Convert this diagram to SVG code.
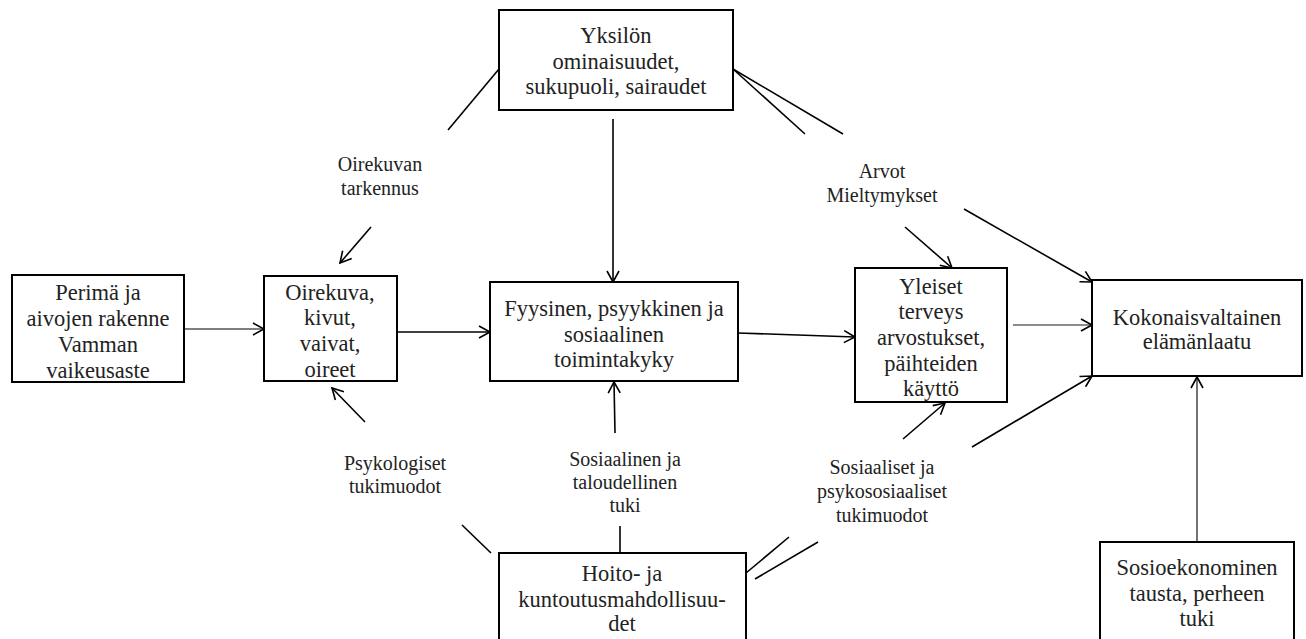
<svg xmlns="http://www.w3.org/2000/svg" width="1306" height="639" viewBox="0 0 1306 639">
<style>
.box{fill:#fff;stroke:#000;stroke-width:2}
.nt{font-size:22.5px;fill:#222;text-anchor:middle}
.lt{font-size:20px;fill:#222;text-anchor:middle}
.c{stroke:#000;stroke-width:1.6;fill:none}
.thin{stroke:#000;stroke-width:1.1;fill:none}
.gray{stroke:#666;stroke-width:1.3;fill:none}
</style>
<defs>
<marker id="ah" markerUnits="userSpaceOnUse" markerWidth="14" markerHeight="14" viewBox="0 0 14 14" refX="12" refY="7" orient="auto">
<path d="M1,1 L12,7 L1,13" fill="none" stroke="#000" stroke-width="1.6"/>
</marker>
</defs>
<rect width="1306" height="639" fill="#fff"/>
<g id="connectors">
<line class="c" x1="499" y1="69" x2="448" y2="130"/>
<line class="c" x1="613" y1="119" x2="613" y2="282" marker-end="url(#ah)"/>
<line class="c" x1="733" y1="69" x2="805" y2="134"/>
<line class="c" x1="733" y1="69" x2="843" y2="134"/>
<line class="c" x1="371" y1="227" x2="340" y2="263" marker-end="url(#ah)"/>
<line class="thin" x1="184" y1="329" x2="264" y2="329" marker-end="url(#ah)"/>
<line class="c" x1="397" y1="332" x2="490" y2="332" marker-end="url(#ah)"/>
<line class="c" x1="738" y1="333" x2="855" y2="337" marker-end="url(#ah)"/>
<line class="c" x1="905" y1="227" x2="952" y2="268" marker-end="url(#ah)"/>
<line class="c" x1="964" y1="209" x2="1092" y2="282" marker-end="url(#ah)"/>
<line class="gray" x1="1013" y1="325" x2="1092" y2="325" marker-end="url(#ah)"/>
<line class="c" x1="972" y1="447" x2="1092" y2="376" marker-end="url(#ah)"/>
<line class="c" x1="903" y1="439" x2="945" y2="403" marker-end="url(#ah)"/>
<line class="c" x1="365" y1="422" x2="332" y2="388" marker-end="url(#ah)"/>
<line class="c" x1="615" y1="433" x2="614" y2="382" marker-end="url(#ah)"/>
<line class="c" x1="620" y1="526" x2="620" y2="553"/>
<line class="c" x1="462" y1="525" x2="491" y2="553"/>
<line class="c" x1="746" y1="573" x2="789" y2="537"/>
<line class="c" x1="755" y1="579" x2="818" y2="542"/>
<line class="thin" x1="1197" y1="542" x2="1197" y2="377" marker-end="url(#ah)"/>
</g>
<g font-family="'Liberation Serif', 'DejaVu Serif', serif">
<g id="n-yksilon">
<rect class="box" x="499" y="10" width="234" height="100"/>
<text class="nt" x="616" y="43">Yksilön</text>
<text class="nt" x="616" y="68.5">ominaisuudet,</text>
<text class="nt" x="616" y="94">sukupuoli, sairaudet</text>
</g>
<g id="n-perima">
<rect class="box" x="12" y="275" width="172" height="107"/>
<text class="nt" x="98" y="300">Perimä ja</text>
<text class="nt" x="98" y="326">aivojen rakenne</text>
<text class="nt" x="98" y="352">Vamman</text>
<text class="nt" x="98" y="378">vaikeusaste</text>
</g>
<g id="n-oirekuva">
<rect class="box" x="264" y="276" width="133" height="105"/>
<text class="nt" x="330" y="300">Oirekuva,</text>
<text class="nt" x="330" y="325">kivut,</text>
<text class="nt" x="330" y="351">vaivat,</text>
<text class="nt" x="330" y="377">oireet</text>
</g>
<g id="n-fyysinen">
<rect class="box" x="490" y="282" width="248" height="99"/>
<text class="nt" x="614" y="316">Fyysinen, psyykkinen ja</text>
<text class="nt" x="614" y="342">sosiaalinen</text>
<text class="nt" x="614" y="367">toimintakyky</text>
</g>
<g id="n-yleiset">
<rect class="box" x="855" y="268" width="152" height="134"/>
<text class="nt" x="931" y="294">Yleiset</text>
<text class="nt" x="931" y="319">terveys</text>
<text class="nt" x="931" y="345">arvostukset,</text>
<text class="nt" x="931" y="371">päihteiden</text>
<text class="nt" x="931" y="396">käyttö</text>
</g>
<g id="n-kokonais">
<rect class="box" x="1092" y="280" width="210" height="96"/>
<text class="nt" x="1197" y="325">Kokonaisvaltainen</text>
<text class="nt" x="1197" y="349">elämänlaatu</text>
</g>
<g id="n-hoito">
<rect class="box" x="499" y="553" width="247" height="100"/>
<text class="nt" x="622" y="581">Hoito- ja</text>
<text class="nt" x="622" y="607">kuntoutusmahdollisuu-</text>
<text class="nt" x="622" y="631">det</text>
</g>
<g id="n-sosio">
<rect class="box" x="1100" y="542" width="194" height="110"/>
<text class="nt" x="1197" y="575">Sosioekonominen</text>
<text class="nt" x="1197" y="601">tausta, perheen</text>
<text class="nt" x="1197" y="626">tuki</text>
</g>
<g id="labels">
<text class="lt" x="380" y="171">Oirekuvan</text>
<text class="lt" x="380" y="195">tarkennus</text>
<text class="lt" x="882" y="178">Arvot</text>
<text class="lt" x="882" y="202">Mieltymykset</text>
<text class="lt" x="395" y="470">Psykologiset</text>
<text class="lt" x="395" y="493">tukimuodot</text>
<text class="lt" x="625" y="466">Sosiaalinen ja</text>
<text class="lt" x="625" y="489">taloudellinen</text>
<text class="lt" x="625" y="512">tuki</text>
<text class="lt" x="882" y="474">Sosiaaliset ja</text>
<text class="lt" x="882" y="498">psykososiaaliset</text>
<text class="lt" x="882" y="522">tukimuodot</text>
</g>
</g>
</svg>
